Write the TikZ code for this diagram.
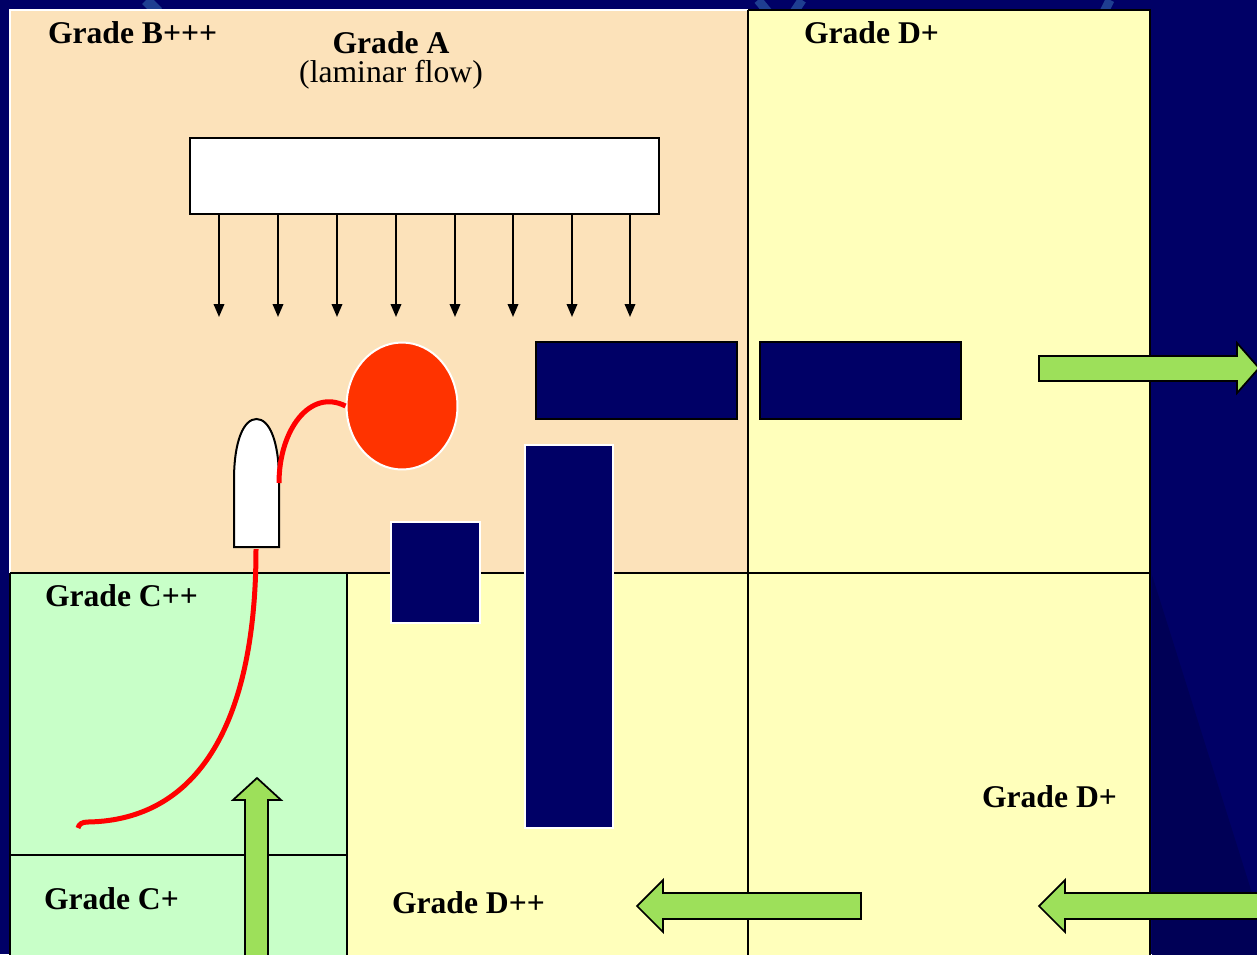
\documentclass[tikz,border=0pt]{standalone}
\usepackage{fontspec}
\setmainfont{Liberation Serif}
\usetikzlibrary{arrows.meta,shapes.geometric}
\definecolor{navy}{RGB}{0,0,102}
\definecolor{navydark}{RGB}{0,0,86}
\definecolor{swirl}{RGB}{30,62,145}
\definecolor{peach}{RGB}{252,226,186}
\definecolor{paleyellow}{RGB}{255,255,187}
\definecolor{palegreen}{RGB}{200,255,200}
\definecolor{arrowgreen}{RGB}{157,224,90}
\definecolor{pumpred}{RGB}{255,51,0}
\definecolor{hosered}{RGB}{255,0,0}
\tikzset{
  zone/.style={draw=black, line width=0.04cm},
  block/.style={fill=navy, draw=black, line width=0.035cm},
  blockw/.style={fill=navy, draw=white, line width=0.04cm},
  bigarrow/.style={fill=arrowgreen, draw=black, line width=0.035cm, line join=miter},
  flow/.style={draw=black, line width=0.04cm, -{Triangle[length=0.26cm,width=0.21cm]}},
  hose/.style={draw=hosered, line width=0.1cm},
  lbl/.style={inner sep=0pt, outer sep=0pt, font=\fontsize{18pt}{21pt}\selectfont\bfseries},
  lblr/.style={inner sep=0pt, outer sep=0pt, font=\fontsize{18pt}{21pt}\selectfont}
}
\begin{document}
\begin{tikzpicture}[x=0.02cm,y=-0.02cm]
\useasboundingbox (0,0) rectangle (1257,954);
% backdrop
\fill[navy] (0,0) rectangle (1257,954);
\fill[navydark] (1152,575) -- (1262,925) -- (1262,960) -- (1152,960) -- cycle;
\draw[swirl, line width=0.22cm] (146,0) -- (158,12);
\draw[swirl, line width=0.18cm] (758,0) -- (768,12);
\draw[swirl, line width=0.18cm] (802,0) -- (794,12);
\draw[swirl, line width=0.18cm] (1110,0) -- (1104,12);

% rooms
\filldraw[zone, fill=paleyellow] (748,10) rectangle (1150,962);
\filldraw[zone, fill=paleyellow] (347,573) rectangle (748,962);
\filldraw[zone, fill=palegreen] (10,573) rectangle (347,962);
\draw[zone] (10,855) -- (347,855);
\fill[peach] (10,10) rectangle (748,573);
\draw[white, line width=0.04cm] (10,573) -- (10,10) -- (748,10);
\draw[zone] (748,10) -- (748,962);
\draw[zone] (10,573) -- (1150,573);

% laminar flow unit
\filldraw[zone, fill=white] (190,138) rectangle (659,214);
\foreach \x in {219,278,337,396,455,513,572,630}
  \draw[flow] (\x,214) -- (\x,317);

% filling pump and container
\node[ellipse, fill=pumpred, draw=white, line width=0.04cm, inner sep=0pt,
      minimum width=2.22cm, minimum height=2.54cm] (pump) at (402,406) {};
\filldraw[zone, fill=white] (234,547) -- (234,480)
   .. controls (234,440) and (244,419) .. (256.5,419)
   .. controls (269,419) and (279,440) .. (279,480) -- (279,547) -- cycle;
\coordinate (vialside) at (279,483);
\coordinate (vialbase) at (256,549);
\coordinate (hoseend) at (78,828);
\draw[hose] (vialside) .. controls (279,430) and (310,388) .. (pump.west);
\draw[hose] (vialbase) .. controls (256,720) and (200,820) .. (88,822)
   .. controls (82,822) and (79,824) .. (hoseend);

% equipment blocks
\filldraw[block] (536,342) rectangle (737,419);
\filldraw[block] (760,342) rectangle (961,419);
\filldraw[blockw] (391,522) rectangle (480,623);
\filldraw[blockw] (525,445) rectangle (613,828);

% air movement
\filldraw[bigarrow] (1039,356) -- (1237,356) -- (1237,343) -- (1259,368)
   -- (1237,393) -- (1237,381) -- (1039,381) -- cycle;
\filldraw[bigarrow] (245,962) -- (245,800) -- (233,800) -- (257,778)
   -- (281,800) -- (268,800) -- (268,962) -- cycle;
\filldraw[bigarrow] (861,893) -- (663,893) -- (663,880) -- (637,906)
   -- (663,932) -- (663,919) -- (861,919) -- cycle;
\filldraw[bigarrow] (1265,893) -- (1065,893) -- (1065,880) -- (1039,906)
   -- (1065,932) -- (1065,919) -- (1265,919) -- cycle;

% labels
\node[lbl, anchor=base west] (gB) at (48,43) {Grade B+++};
\node[lbl, anchor=base] (gA) at (391,53) {Grade A};
\node[lblr, anchor=base] (gAsub) at (391,82) {(laminar flow)};
\node[lbl, anchor=base west] (gDtop) at (804,43) {Grade D+};
\node[lbl, anchor=base west] (gCpp) at (45,606) {Grade C++};
\node[lbl, anchor=base west] (gCp) at (44,909) {Grade C+};
\node[lbl, anchor=base west] (gDpp) at (392,913) {Grade D++};
\node[lbl, anchor=base west] (gDbot) at (982,807) {Grade D+};
\end{tikzpicture}
\end{document}
